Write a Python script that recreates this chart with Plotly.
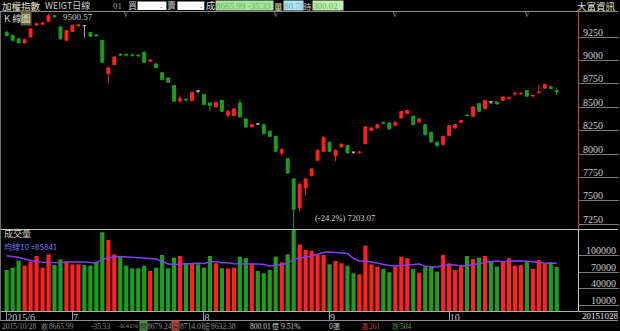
import plotly.graph_objects as go
import pandas as pd

# ---------------- data ----------------
month_ticks = [0, 11, 33, 54, 74]
month_labels = ["2015/6", "7", "8", "9", "10"]

opens = [9301, 9266, 9231, 9188, 9252, 9380, 9388, 9419, 9478, 9359,
         9216, 9312, 9370, 9373, 9298, 9275, 9216, 8860, 8956, 9066,
         9064, 9060, 9058, 9088, 8993, 8964, 8868, 8814, 8735, 8568,
         8586, 8572, 8673, 8636, 8547, 8504, 8575, 8415, 8411, 8547,
         8376, 8291, 8323, 8315, 8244, 8190, 8013, 7952, 7735, 7425,
         7639, 7770, 7934, 8030, 8126, 7984, 8077, 8091, 8019, 8015,
         8112, 8254, 8280, 8336, 8333, 8308, 8387, 8433, 8404, 8344,
         8315, 8233, 8126, 8101, 8198, 8280, 8340, 8418, 8404, 8540,
         8486, 8558, 8558, 8575, 8596, 8644, 8644, 8678, 8623, 8658,
         8705, 8720, 8679.24]
highs = [9318, 9280, 9245, 9232, 9345, 9398, 9412, 9500.57, 9490, 9372,
         9328, 9385, 9390, 9376, 9305, 9282, 9222, 8930, 9045, 9080,
         9078, 9070, 9068, 9095, 9015, 8972, 8876, 8820, 8742, 8625,
         8600, 8668, 8676, 8645, 8555, 8560, 8582, 8470, 8490, 8582,
         8383, 8325, 8330, 8322, 8250, 8196, 8066, 7960, 7740, 7700,
         7745, 7850, 8050, 8192, 8135, 8050, 8113, 8100, 8030, 8035,
         8300, 8288, 8322, 8350, 8340, 8348, 8462, 8476, 8411, 8384,
         8322, 8240, 8135, 8198, 8312, 8322, 8370, 8425, 8512, 8547,
         8580, 8562, 8565, 8618, 8615, 8670, 8660, 8685, 8628, 8740,
         8752, 8728, 8714.01]
lows = [9255, 9205, 9180, 9178, 9245, 9370, 9378, 9410, 9455, 9222,
        9205, 9305, 9362, 9245, 9250, 9258, 8975, 8764, 8948, 9045,
        9040, 9045, 9042, 8975, 8985, 8918, 8790, 8760, 8558, 8547,
        8560, 8565, 8650, 8522, 8457, 8497, 8450, 8387, 8404, 8390,
        8284, 8284, 8315, 8212, 8183, 8022, 7976, 7790, 7203.07, 7389,
        7557, 7762, 7925, 8022, 8022, 7923, 8070, 8005, 8005, 8005,
        8105, 8247, 8273, 8318, 8262, 8300, 8380, 8426, 8308, 8337,
        8200, 8122, 8077, 8094, 8190, 8273, 8330, 8405, 8396, 8450,
        8478, 8535, 8530, 8568, 8585, 8620, 8632, 8612, 8600, 8650,
        8698, 8695, 8632.38]
closes = [9266, 9216, 9188, 9223, 9338, 9392, 9400, 9480, 9468, 9231,
          9319, 9376, 9378, 9373, 9259, 9265, 8981, 8921, 9038, 9060,
          9058, 9052, 9050, 8981, 9003, 8924, 8796, 8767, 8564, 8593,
          8580, 8660, 8673, 8529, 8518, 8553, 8457, 8457, 8483, 8397,
          8291, 8318, 8323, 8219, 8190, 8030, 8048, 7799, 7410.34, 7675.64,
          7735, 7842, 8041, 8174.92, 8030, 8041, 8105, 8013, 8019, 8022,
          8291, 8280, 8315, 8330, 8269, 8340, 8454, 8468, 8315, 8376,
          8208, 8130, 8091, 8190, 8304, 8315, 8358, 8412, 8504, 8457,
          8572, 8558, 8536, 8611, 8604, 8648, 8648, 8618, 8627, 8662,
          8745, 8701.32, 8665.99]
volumes = [74500, 78800, 91500, 82400, 89700, 100000, 78800, 103000, 83600, 94000,
           89700, 84800, 84800, 83600, 82400, 89700, 143000, 129000, 103000, 98800,
           82400, 77600, 77600, 82400, 72700, 78800, 101800, 77600, 97000, 100000,
           86700, 86700, 84800, 78800, 100000, 86700, 77600, 77600, 78800, 98800,
           96000, 86700, 72700, 68500, 74500, 98800, 88500, 103000, 153000, 121000,
           111000, 109600, 101800, 101800, 84800, 90900, 86700, 82400, 68500, 66700,
           118700, 84800, 80600, 76400, 70300, 80600, 98800, 95800, 76400, 69700,
           80600, 80600, 71500, 101800, 86700, 74500, 82400, 100000, 94500, 97000,
           100000, 89700, 80600, 90900, 95800, 82400, 83600, 89700, 76400, 92700,
           86700, 88500, 80001]
# 10-day average of volume for the first days (window starts before the chart)
ma10_head = [100500, 99000, 97600, 94500, 91500, 89500, 88500, 88000, 87800]

price_ticks = [7250, 7500, 7750, 8000, 8250, 8500, 8750, 9000, 9250]
volume_ticks = [10000, 40000, 70000, 100000]
marker_days = [20, 45, 65, 87]

# ---------------- derived ----------------
idx = list(range(len(closes)))
ma10 = pd.Series(volumes, dtype=float).rolling(10).mean()
ma10.iloc[:len(ma10_head)] = ma10_head

RED = "#ff2020"
GREEN = "#1e9c1e"
GRAY = "#b0b0b0"

up = [i for i in idx if closes[i] > opens[i]]
down = [i for i in idx if closes[i] < opens[i]]
doji = [i for i in idx if closes[i] == opens[i]]
vol_colors = [RED if closes[i] > opens[i] else GREEN for i in idx]


def sub(lst, ids):
    return [lst[i] for i in ids]


fig = go.Figure()
for ids, col in ((up, RED), (down, GREEN), (doji, GRAY)):
    fig.add_trace(go.Candlestick(
        x=ids, open=sub(opens, ids), high=sub(highs, ids),
        low=sub(lows, ids), close=sub(closes, ids),
        increasing=dict(line=dict(color=col, width=1), fillcolor=col),
        decreasing=dict(line=dict(color=col, width=1), fillcolor=col),
        xaxis="x", yaxis="y", hoverinfo="skip", showlegend=False))

fig.add_trace(go.Bar(x=idx, y=volumes, marker=dict(color=vol_colors, line=dict(width=0)),
                     width=0.7, xaxis="x", yaxis="y2", hoverinfo="skip", showlegend=False))
fig.add_trace(go.Scatter(x=idx, y=ma10, mode="lines", line=dict(color="#8040f0", width=1.5),
                         xaxis="x", yaxis="y2", hoverinfo="skip", showlegend=False))

# ---------------- layout ----------------
W, H = 620, 331
ML, MR, MT, MB = 2, 40, 11, 20
PW, PH = W - ML - MR, H - MT - MB
SPLIT = 229  # pixel row between price and volume panels


def PX(x):
    return (x - ML) / PW


def PY(y):
    return (H - MB - y) / PH


SERIF = "Liberation Serif"
CJK = "Noto Sans CJK TC"

axis_font = dict(family=SERIF, size=10, color="#c8c8c8")

fig.update_layout(
    width=W, height=H, autosize=False,
    margin=dict(l=ML, r=MR, t=MT, b=MB, pad=0),
    paper_bgcolor="#000000", plot_bgcolor="#000000",
    showlegend=False, bargap=0.3,
    xaxis=dict(domain=[0, 1], anchor="y2", range=[-0.78, 95.55],
               rangeslider=dict(visible=False), showgrid=False, zeroline=False,
               showline=False, tickvals=month_ticks, ticktext=month_labels,
               ticks="outside", ticklen=9, tickwidth=1, tickcolor="#a0a0a0",
               ticklabelposition="outside right", ticklabelstandoff=-3,
               tickfont=dict(family=SERIF, size=10, color="#c8c8c8")),
    yaxis=dict(domain=[PY(SPLIT), 1], anchor="x", side="right",
               range=[7200, 9529], showgrid=False, zeroline=False,
               showline=True, linecolor="#c84848", linewidth=1,
               tickvals=price_ticks, ticktext=[str(v) for v in price_ticks],
               ticks="outside", ticklen=40, tickwidth=1, tickcolor="#7a7a7a",
               ticklabelstandoff=-38, ticklabelshift=-5, tickfont=axis_font),
    yaxis2=dict(domain=[0, PY(SPLIT)], anchor="x", side="right",
                range=[0, 149000], showgrid=False, zeroline=False,
                showline=True, linecolor="#c8c8c8", linewidth=1,
                tickvals=volume_ticks,
                ticktext=[("\u2002" * (6 - len(str(v)))) + str(v) for v in volume_ticks],
                ticks="outside", ticklen=40, tickwidth=1, tickcolor="#7a7a7a",
                ticklabelstandoff=-35, ticklabelshift=-5, tickfont=axis_font),
)

shapes = []


def hline(y, color="#8c8c8c", x0=0, x1=W):
    shapes.append(dict(type="line", xref="paper", yref="paper",
                       x0=PX(x0), x1=PX(x1), y0=PY(y), y1=PY(y),
                       line=dict(color=color, width=1)))


hline(11.5, "#8c8c8c")
hline(SPLIT + 0.5, "#c0c0c0")
hline(311.5, "#b0b0b0")
hline(320.5, "#8c8c8c")
shapes.append(dict(type="line", xref="paper", yref="paper", x0=PX(0.5), x1=PX(0.5),
                   y0=PY(11.5), y1=PY(320.5), line=dict(color="#707070", width=1)))
# input boxes in the top bar
for x0, x1 in ((138, 167), (178, 205)):
    shapes.append(dict(type="rect", xref="paper", yref="paper", x0=PX(x0), x1=PX(x1),
                       y0=PY(10), y1=PY(1.5), fillcolor="#ffffff", line=dict(width=0)))
fig.update_layout(shapes=shapes)

ann = []


def text(x, y, s, color="#c8c8c8", size=10, family=CJK, anchor="left", **kw):
    ann.append(dict(xref="paper", yref="paper", x=PX(x), y=PY(y), text=s,
                    showarrow=False, xanchor=anchor, yanchor="middle",
                    font=dict(family=family, size=size, color=color),
                    borderpad=0, **kw))


# top bar
TB = 5.5
text(0.5, TB, "加權指數", "#e8e8d8", 9.5)
text(44, TB, "WEIGT日線", "#c8c8c8", 9)
text(112, TB, "01", "#a0a0a0", 9, SERIF)
text(127, TB, "買", "#c8c8c8", 9)
text(160, 5, ".", "#000000", 9, SERIF)
text(167, TB, "賣", "#c8c8c8", 9)
text(200, 5, ".", "#000000", 9, SERIF)
text(206, TB, "成", "#e0e0e0", 9)
text(216, TB, "8665.99 -35.33", "#5fae5f", 9, SERIF, bgcolor="#a8e4a0", width=57, height=9, align="left")
text(274, TB, "量", "#e0e0a0", 8.5)
text(284, TB, "80.76", "#6aaac0", 9, SERIF, bgcolor="#b0e4f0", width=19, height=9, align="left")
text(303.5, TB, "時", "#c8c8c8", 8.5)
text(313, TB, "300.02", "#5fae5f", 9, SERIF, bgcolor="#c0ecb0", width=30, height=9, align="left")
text(619, TB, "大富資訊", "#e8e8d0", 9.5, anchor="right")

# price panel
text(3, 18, "K 線", "#d8d8d8", 9.5)
text(20.5, 18, "圖", "#e8e8d0", 9.5, bgcolor="#6a6440")
text(62, 17.5, "9500.57", "#d0d0d0", 9, SERIF)
text(315, 218, "(-24.2%) 7203.07", "#d0d0d0", 8.5, SERIF)
for d in marker_days:
    ann.append(dict(xref="x", yref="paper", x=d, y=PY(14.5), text="V", showarrow=False,
                    xanchor="center", yanchor="middle",
                    font=dict(family=SERIF, size=8, color="#9a9a9a")))

# volume panel
text(3, 233.5, "成交量", "#d8d8c0", 9)
text(3, 246, "均線10 =85841", "#7474f4", 8)

# x-axis end label
text(583, 316, "20151028", "#e8e8e8", 9, SERIF)

# status row
ST = 326
text(0.5, ST, "2015/10/28", "#8c8c8c", 7.5, SERIF)
text(40, ST, "收", "#8c8c8c", 7)
text(48, ST, "8665.99", "#8c8c8c", 7.5, SERIF)
text(90, ST, "-35.33", "#8c8c8c", 7.5, SERIF)
text(117, ST, "-0.41%", "#8c8c8c", 7, SERIF)
text(139, ST, "開", "#303030", 7, bgcolor="#4a8a4a")
text(147, ST, "8679.24", "#8c8c8c", 7.5, SERIF)
text(172, ST, "高", "#303030", 7, bgcolor="#b04040")
text(180, ST, "8714.01", "#8c8c8c", 7.5, SERIF)
text(203, ST, "低", "#8c8c8c", 7)
text(211, ST, "8632.38", "#8c8c8c", 7.5, SERIF)
text(250, ST, "800.01", "#d0d0d0", 7.5, SERIF)
text(272, ST, "億", "#d0d0d0", 7)
text(281, ST, "9.51%", "#d0d0d0", 7.5, SERIF)
text(329, ST, "0張", "#d0d0d0", 7)
text(361, ST, "漲", "#c04040", 7)
text(369, ST, "261", "#c04040", 7.5, SERIF)
text(392, ST, "跌", "#3a8a3a", 7)
text(400, ST, "504", "#6a9a6a", 7.5, SERIF)

fig.update_layout(annotations=ann)
fig.write_html("out.html")
